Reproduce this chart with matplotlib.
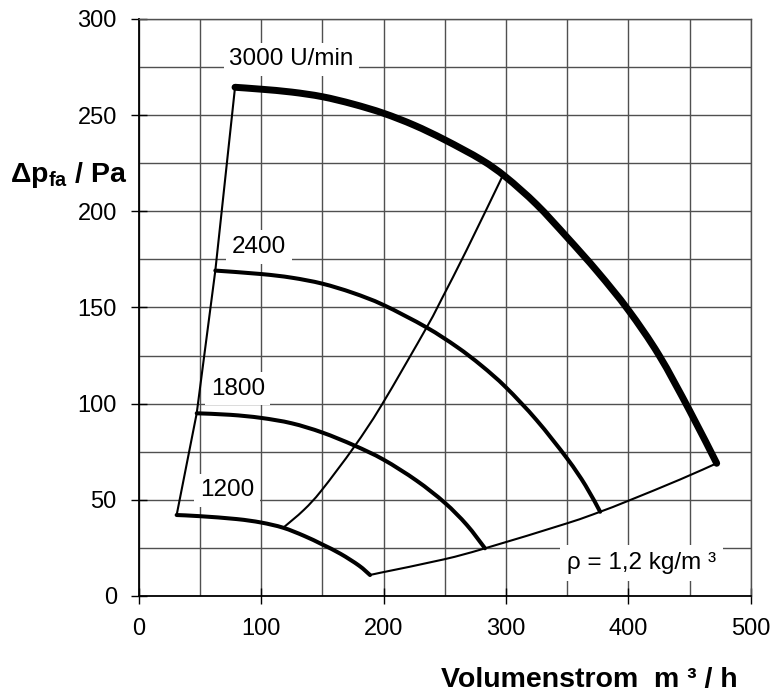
import matplotlib
matplotlib.use("Agg")
import matplotlib.pyplot as plt
from matplotlib.path import Path
from matplotlib.patches import PathPatch
import numpy as np

plt.rcParams['font.family'] = ['Liberation Sans', 'DejaVu Sans']
plt.rcParams['mathtext.fontset'] = 'custom'
plt.rcParams['mathtext.rm'] = 'Liberation Sans'
plt.rcParams['mathtext.bf'] = 'Liberation Sans:bold'
plt.rcParams['mathtext.it'] = 'Liberation Sans:italic'

# --- data (Volumenstrom m3/h, pressure Pa) ---
n3000_x = [78.7, 100, 125, 150, 175, 200, 225, 250, 280, 300, 325, 350, 375, 400, 425, 450, 472.2]
n3000_y = [264.5, 263.5, 262.0, 259.6, 255.8, 251.0, 244.8, 237.2, 226.8, 217.8, 203.6, 186.5,
           168.5, 148.7, 125.3, 96.5, 69.0]

n2400_x = [62.6, 100, 125, 150, 175, 200, 235, 260, 280, 300, 325, 350, 365, 377]
n2400_y = [169.2, 167.4, 165.5, 162.4, 157.6, 151.3, 139.7, 129.5, 119.8, 108.5, 91.5, 71.5, 57.5, 43.8]

n1800_x = [47.4, 75, 100, 125, 150, 176, 200, 227, 250, 268, 282.9]
n1800_y = [95.0, 94.2, 92.6, 89.8, 85.0, 78.3, 70.9, 60.0, 48.5, 37.0, 24.8]

n1200_x = [31.0, 50, 80, 100, 118, 135, 150, 165, 180, 189]
n1200_y = [42.1, 41.5, 40.0, 38.2, 35.5, 31.3, 26.8, 21.9, 15.8, 10.9]

left_x = [31.0, 47.4, 62.6, 78.7]
left_y = [42.1, 95.0, 169.2, 264.5]

mid_x = [118.1, 135, 149.5, 176.0, 198.5, 235.3, 248, 268, 297]
mid_y = [35.5, 44.8, 55.0, 77.5, 99.3, 139.7, 155, 180, 218]

bottom_x = [189, 197.5, 249, 283, 350, 377, 400, 442.4, 472.2]
bottom_y = [10.9, 12.1, 19.0, 24.8, 37.8, 43.8, 49.5, 60.6, 69.0]

speed_labels = ['3000 U/min', '2400', '1800', '1200']
label_pos_x = [74, 76, 58.8, 50.1]
label_pos_y = [279, 181.5, 107.8, 55]

x_ticks = [0, 100, 200, 300, 400, 500]
y_ticks = [0, 50, 100, 150, 200, 250, 300]


def smooth_path(xs, ys):
    """Catmull-Rom curve through the read points, as cubic Bezier segments."""
    p = np.column_stack([xs, ys]).astype(float)
    n = len(p)
    verts = [p[0]]
    codes = [Path.MOVETO]
    for i in range(n - 1):
        p0 = p[i - 1] if i > 0 else p[i]
        p1 = p[i]
        p2 = p[i + 1]
        p3 = p[i + 2] if i + 2 < n else p[i + 1]
        c1 = p1 + (p2 - p0) / 6.0
        c2 = p2 - (p3 - p1) / 6.0
        verts += [c1, c2, p2]
        codes += [Path.CURVE4] * 3
    return Path(verts, codes)


fig = plt.figure(figsize=(7.72, 6.93), dpi=100)
ax = fig.add_axes([138.7 / 772, 1 - 596 / 693, 612 / 772, 577 / 693])

ax.set_xlim(0, 500)
ax.set_ylim(0, 300)
ax.set_xticks(x_ticks)
ax.set_yticks(y_ticks)
ax.set_xticks(np.arange(0, 501, 50), minor=True)
ax.set_yticks(np.arange(0, 301, 25), minor=True)
ax.grid(True, which='both', color='#505050', lw=1.0)
ax.set_axisbelow(True)
ax.tick_params(which='minor', length=0)
ax.tick_params(which='major', direction='inout', length=11.5, width=1.0,
               color='black', labelsize=17, pad=10)

for s in ['left', 'bottom']:
    ax.spines[s].set_color('black')
    ax.spines[s].set_linewidth(1.3)
for s in ['top', 'right']:
    ax.spines[s].set_color('#505050')
    ax.spines[s].set_linewidth(1.0)

series = [
    (n3000_x, n3000_y, 5.0, True),
    (n2400_x, n2400_y, 2.9, True),
    (n1800_x, n1800_y, 2.9, True),
    (n1200_x, n1200_y, 2.9, True),
    (left_x, left_y, 1.5, False),
    (mid_x, mid_y, 1.5, True),
    (bottom_x, bottom_y, 1.5, True),
]
for xs, ys, lw, smooth in series:
    if smooth:
        patch = PathPatch(smooth_path(xs, ys), fill=False, edgecolor='black',
                          lw=lw, capstyle='round', joinstyle='round', zorder=5)
        ax.add_patch(patch)
    else:
        ax.plot(xs, ys, color='black', lw=lw, solid_capstyle='round',
                solid_joinstyle='round', zorder=5)

for t, x, y in zip(speed_labels, label_pos_x, label_pos_y):
    ax.text(x, y, t, fontsize=17.5, ha='left', va='center', zorder=3,
            bbox=dict(facecolor='white', edgecolor='none', pad=4))

ax.text(349.7, 17, 'ρ = 1,2 kg/m ³', fontsize=17.5, ha='left', va='center', zorder=3,
        bbox=dict(facecolor='white', edgecolor='none', pad=5))

fig.text(10 / 772, 1 - 181.7 / 693, r'$\mathbf{\Delta p_{fa}}$' + ' / Pa',
         fontsize=20.5, fontweight='bold', ha='left', va='baseline')
fig.text(738 / 772, 1 - 680 / 693, 'Volumenstrom  m ³ / h',
         fontsize=20.5, fontweight='bold', ha='right', va='center')

fig.savefig('out.png', dpi=100)
